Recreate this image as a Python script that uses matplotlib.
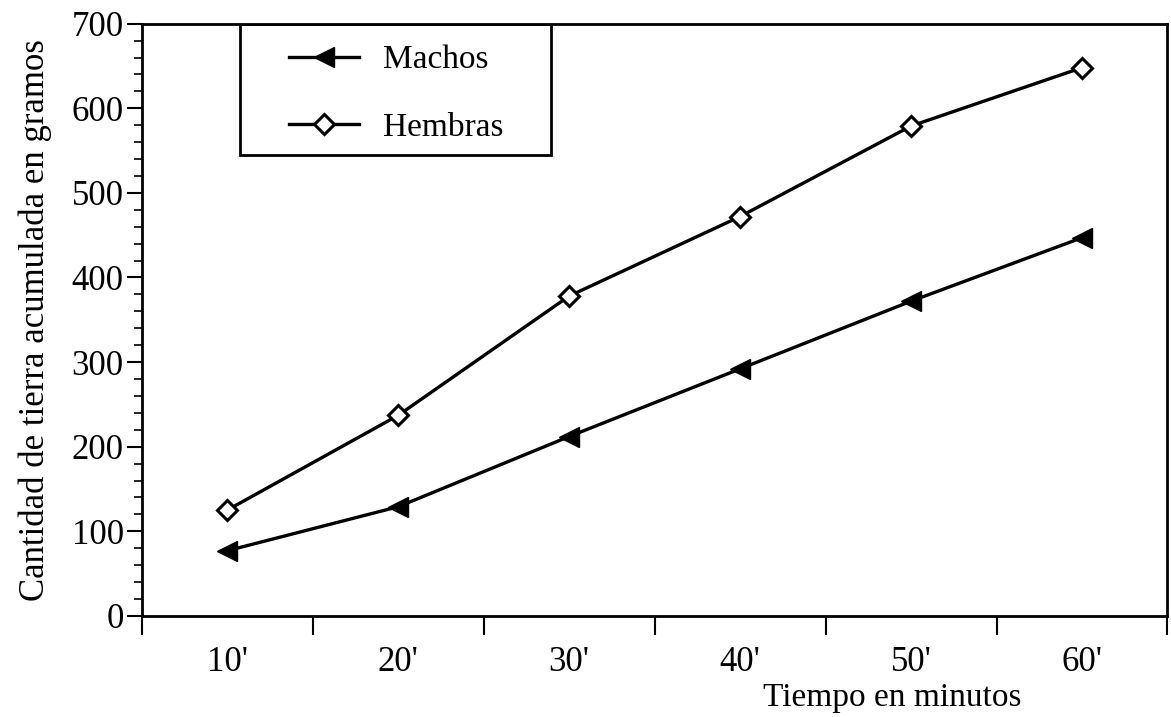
import matplotlib
matplotlib.use('Agg')
import matplotlib.pyplot as plt
from matplotlib.patches import Rectangle
from matplotlib.ticker import MultipleLocator

# Datos
tiempos = ["10'", "20'", "30'", "40'", "50'", "60'"]
machos = [77, 129, 212, 292, 372, 447]
hembras = [125, 237, 378, 472, 579, 648]

plt.rcParams['font.family'] = ['Liberation Serif', 'DejaVu Serif']

fig = plt.figure(figsize=(11.71, 7.17), dpi=100)
ax = fig.add_axes([0.121, 0.141, 0.876, 0.826])

x = list(range(len(tiempos)))
ax.plot(x, machos, color='black', lw=2.4, marker='<', markersize=14,
        markerfacecolor='black', markeredgecolor='black')
ax.plot(x, hembras, color='black', lw=2.4, marker='D', markersize=10,
        markerfacecolor='white', markeredgecolor='black', markeredgewidth=2.2)

ax.set_xlim(-0.5, len(tiempos) - 0.5)
ax.set_ylim(0, 700)
ax.yaxis.set_major_locator(MultipleLocator(100))
ax.yaxis.set_minor_locator(MultipleLocator(20))

# marcas del eje x en los límites entre categorías
ax.set_xticks([i - 0.5 for i in range(len(tiempos) + 1)])
ax.set_xticklabels([])
ax.set_xticks(x, minor=True)
ax.set_xticklabels(tiempos, minor=True)
ax.tick_params(axis='x', which='major', direction='out', length=14, width=1.5)
ax.tick_params(axis='x', which='minor', length=0, pad=22, labelsize=25)
ax.tick_params(axis='y', which='major', direction='out', length=11, width=1.5, labelsize=25, pad=2)
ax.tick_params(axis='y', which='minor', direction='out', length=6, width=1.2)

for s in ax.spines.values():
    s.set_linewidth(2)

ax.set_ylabel('Cantidad de tierra acumulada en gramos', fontsize=25, labelpad=14)
ax.set_xlabel('Tiempo en minutos', fontsize=24)
ax.xaxis.set_label_coords(0.732, -0.112)

# caja de la leyenda
ax.add_patch(Rectangle((0.0955, 0.779), 0.304, 0.221, transform=ax.transAxes,
                       fill=False, edgecolor='black', lw=2, zorder=5))
ax.legend(['Machos', 'Hembras'], loc='upper left', bbox_to_anchor=(0.144, 0.964),
          fontsize=24, frameon=False, borderpad=0, borderaxespad=0,
          handlelength=2.1, labelspacing=1.1, handletextpad=0.7)

fig.savefig('out.png', dpi=100)
